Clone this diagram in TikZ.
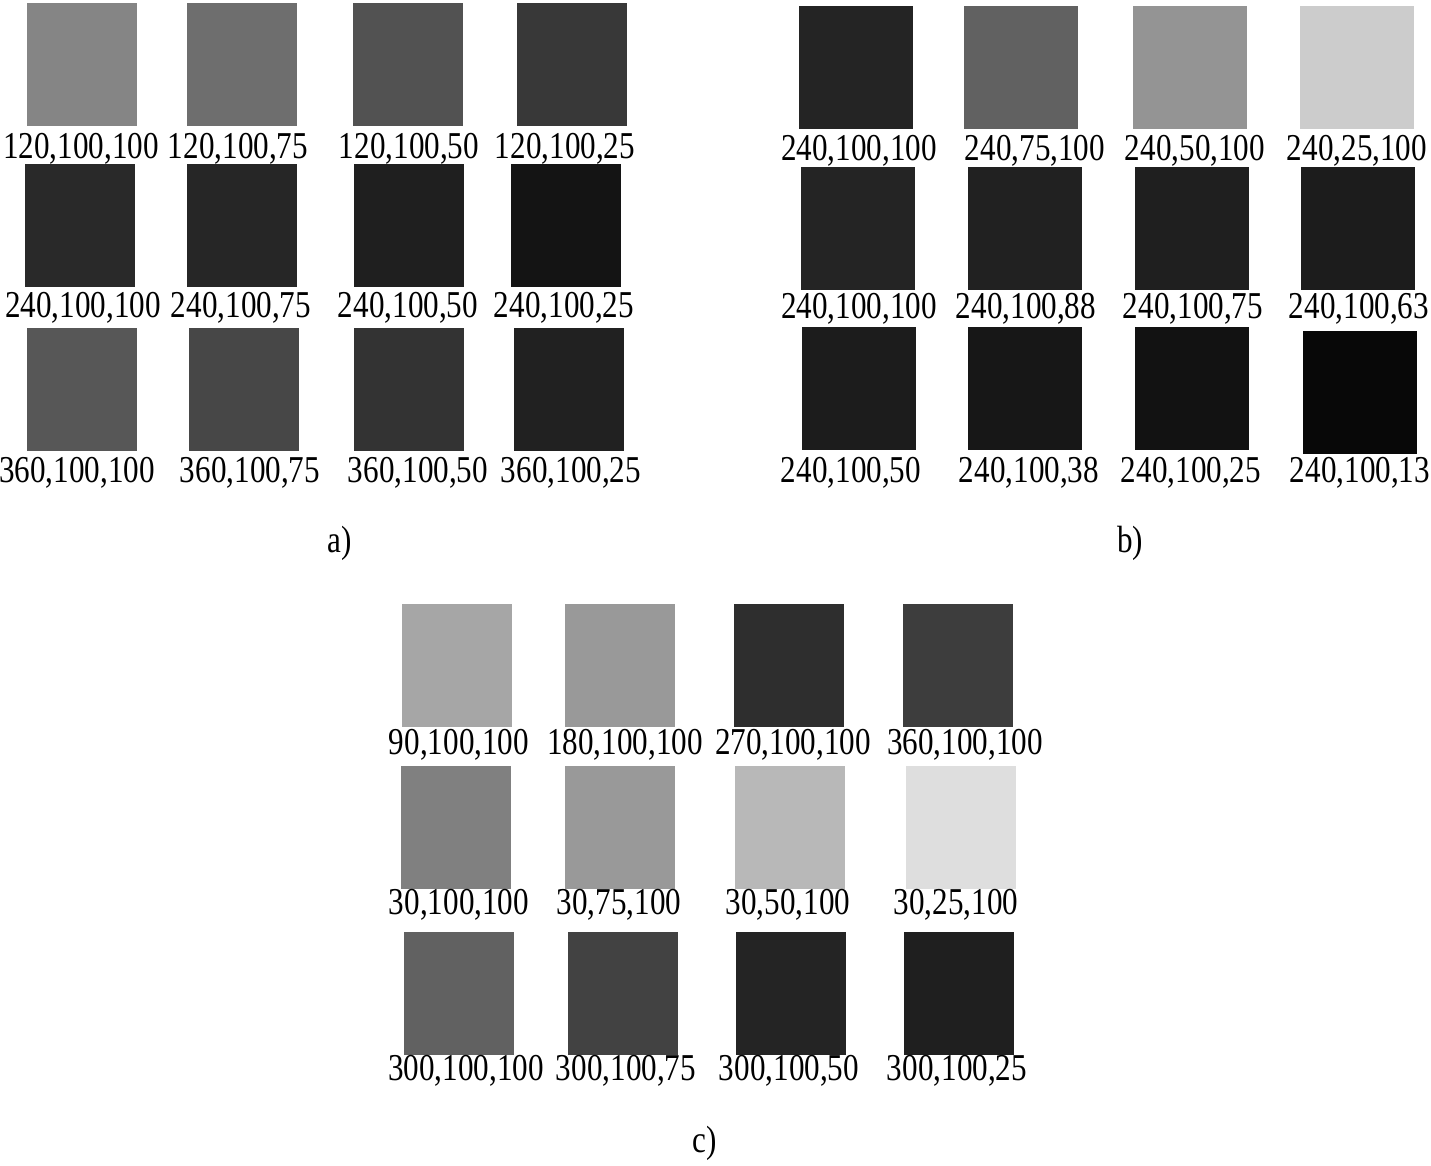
\documentclass[tikz,border=0pt]{standalone}
\usepackage{fontspec}
\setmainfont{Liberation Serif}[FakeStretch=0.82]
\usepackage{tikz}
\usetikzlibrary{positioning}

\begin{document}
\begin{tikzpicture}
[
	              y = -1cm,
	  patch/.style  = { fill=black!#1, draw=none, minimum width=1.1cm, minimum height=1.23cm, inner sep=0pt },
	 wpatch/.style  = { patch=#1, minimum width=1.14cm },
	caption/.style  = { draw=none, fill=none, anchor=base, inner sep=0pt, font=\fontsize{10.8pt}{13pt}\selectfont },
	  panel/.style  = { caption }
]
	\useasboundingbox (0,0) rectangle (14.31,11.66);

	% a)
	\node (a11) at (0.82,0.64)  [patch=48] {};
	\node (a12) at (2.42,0.64)  [patch=57] {};
	\node (a13) at (4.08,0.64)  [patch=68] {};
	\node (a14) at (5.72,0.64)  [patch=78] {};
	\node (a11t) at (0.81,1.58) [caption] {120,100,100};
	\node (a12t) at (2.38,1.58) [caption] {120,100,75};
	\node (a13t) at (4.09,1.58) [caption] {120,100,50};
	\node (a14t) at (5.65,1.58) [caption] {120,100,25};

	\node (a21) at (0.80,2.25)  [patch=84] {};
	\node (a22) at (2.42,2.25)  [patch=85] {};
	\node (a23) at (4.09,2.25)  [patch=88] {};
	\node (a24) at (5.66,2.25)  [patch=92] {};
	\node (a21t) at (0.83,3.17) [caption] {240,100,100};
	\node (a22t) at (2.41,3.17) [caption] {240,100,75};
	\node (a23t) at (4.08,3.17) [caption] {240,100,50};
	\node (a24t) at (5.64,3.17) [caption] {240,100,25};

	\node (a31) at (0.82,3.89)  [patch=66] {};
	\node (a32) at (2.44,3.89)  [patch=72] {};
	\node (a33) at (4.09,3.89)  [patch=80] {};
	\node (a34) at (5.69,3.89)  [patch=87] {};
	\node (a31t) at (0.77,4.82) [caption] {360,100,100};
	\node (a32t) at (2.50,4.82) [caption] {360,100,75};
	\node (a33t) at (4.18,4.82) [caption] {360,100,50};
	\node (a34t) at (5.71,4.82) [caption] {360,100,25};

	\node (a) at (3.40,5.52) [panel] {a)};

	% b)
	\node (b11) at (8.56,0.68)  [wpatch=86] {};
	\node (b12) at (10.21,0.68) [wpatch=62] {};
	\node (b13) at (11.90,0.68) [wpatch=42] {};
	\node (b14) at (13.57,0.68) [wpatch=20] {};
	\node (b11t) at (8.59,1.61)  [caption] {240,100,100};
	\node (b12t) at (10.35,1.61) [caption] {240,75,100};
	\node (b13t) at (11.95,1.61) [caption] {240,50,100};
	\node (b14t) at (13.57,1.61) [caption] {240,25,100};

	\node (b21) at (8.58,2.28)  [wpatch=86] {};
	\node (b22) at (10.25,2.28) [wpatch=87] {};
	\node (b23) at (11.92,2.28) [wpatch=88] {};
	\node (b24) at (13.58,2.28) [wpatch=89] {};
	\node (b21t) at (8.59,3.18)  [caption] {240,100,100};
	\node (b22t) at (10.26,3.18) [caption] {240,100,88};
	\node (b23t) at (11.93,3.18) [caption] {240,100,75};
	\node (b24t) at (13.59,3.18) [caption] {240,100,63};

	\node (b31) at (8.59,3.88)  [wpatch=89] {};
	\node (b32) at (10.25,3.88) [wpatch=91] {};
	\node (b33) at (11.92,3.88) [wpatch=93] {};
	\node (b34) at (13.60,3.92) [wpatch=97] {};
	\node (b31t) at (8.51,4.82)  [caption] {240,100,50};
	\node (b32t) at (10.29,4.82) [caption] {240,100,38};
	\node (b33t) at (11.91,4.82) [caption] {240,100,25};
	\node (b34t) at (13.60,4.82) [caption] {240,100,13};

	\node (b) at (11.30,5.52) [panel] {b)};

	% c)
	\node (c11) at (4.57,6.65)  [patch=35] {};
	\node (c12) at (6.20,6.65)  [patch=40] {};
	\node (c13) at (7.89,6.65)  [patch=82] {};
	\node (c14) at (9.58,6.65)  [patch=76] {};
	\node (c11t) at (4.59,7.54) [caption] {90,100,100};
	\node (c12t) at (6.25,7.54) [caption] {180,100,100};
	\node (c13t) at (7.93,7.54) [caption] {270,100,100};
	\node (c14t) at (9.65,7.54) [caption] {360,100,100};

	\node (c21) at (4.56,8.27)  [patch=50] {};
	\node (c22) at (6.20,8.27)  [patch=40] {};
	\node (c23) at (7.90,8.27)  [patch=28] {};
	\node (c24) at (9.61,8.27)  [patch=13] {};
	\node (c21t) at (4.59,9.14) [caption] {30,100,100};
	\node (c22t) at (6.19,9.14) [caption] {30,75,100};
	\node (c23t) at (7.88,9.14) [caption] {30,50,100};
	\node (c24t) at (9.56,9.14) [caption] {30,25,100};

	\node (c31) at (4.59,9.93)  [patch=62] {};
	\node (c32) at (6.23,9.93)  [patch=74] {};
	\node (c33) at (7.91,9.93)  [patch=86] {};
	\node (c34) at (9.59,9.93)  [patch=88] {};
	\node (c31t) at (4.66,10.80) [caption] {300,100,100};
	\node (c32t) at (6.26,10.80) [caption] {300,100,75};
	\node (c33t) at (7.89,10.80) [caption] {300,100,50};
	\node (c34t) at (9.57,10.80) [caption] {300,100,25};

	\node (c) at (7.05,11.52) [panel] {c)};

\end{tikzpicture}
\end{document}
